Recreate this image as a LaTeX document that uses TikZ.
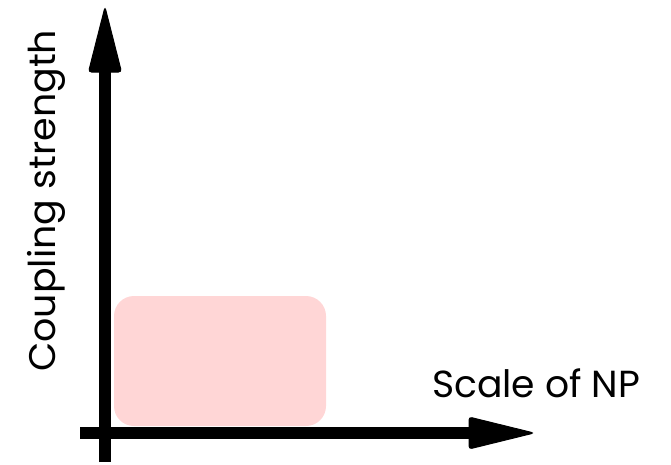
\documentclass[tikz,border=0pt]{standalone}
\usepackage{fontspec}
\setmainfont{Poppins}
\definecolor{regionpink}{RGB}{255,214,214}
\tikzset{
  axisline/.style={line width=12pt, line cap=butt},
  axishead/.style={fill=black, draw=black, line width=1pt, rounded corners=3pt},
  axislabel/.style={inner sep=0pt, font=\fontsize{37}{40}\selectfont},
}
\begin{document}
\begin{tikzpicture}[x=1pt,y=-1pt]
  \useasboundingbox (0,0) rectangle (671,464);
  % highlighted region
  \fill[regionpink, rounded corners=20pt] (114,296) rectangle (326,426);
  % axes
  \coordinate (yfoot) at (105,462);
  \coordinate (ybase) at (105,70);
  \coordinate (xfoot) at (80,433);
  \coordinate (xbase) at (471,433);
  \draw[axisline] (yfoot) -- (ybase);
  \draw[axisline] (xfoot) -- (xbase);
  \path[axishead] (88.5,72) -- (105,7) -- (121.5,72) -- cycle;
  \path[axishead] (469,417) -- (534,433) -- (469,449) -- cycle;
  % labels
  \node[axislabel, anchor=base west] (xlab) at (432,397) {\resizebox{208pt}{!}{Scale of NP}};
  \node[axislabel, anchor=base west, rotate=90] (ylab) at (55,372) {\resizebox{342pt}{\height}{Coupling strength}};
\end{tikzpicture}
\end{document}
